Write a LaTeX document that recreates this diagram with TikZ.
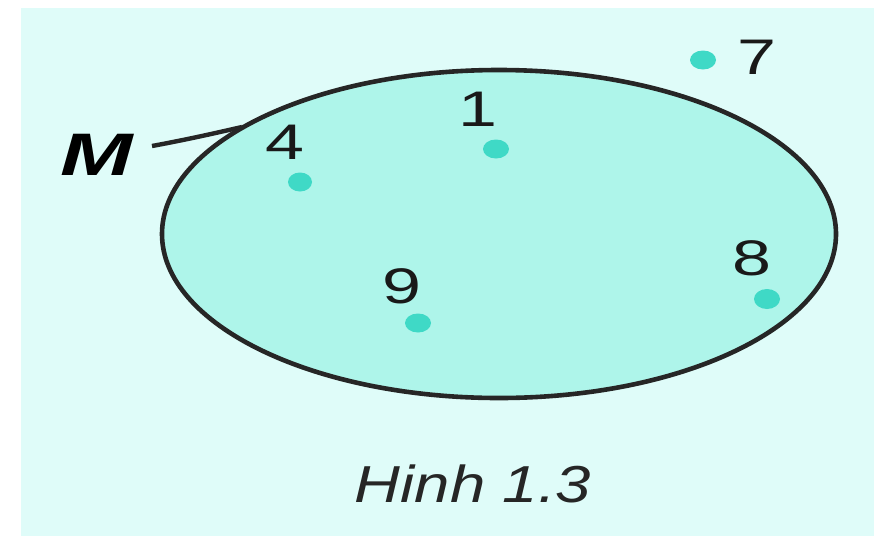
\documentclass[tikz,border=0pt]{standalone}
\usepackage{fontspec}
\setmainfont{Liberation Sans}
\begin{document}
\begin{tikzpicture}[x=1pt,y=-1pt,
  digit/.style={inner sep=0pt,font=\fontsize{50}{50}\selectfont,xscale=1.4,text=black!90},
]
\definecolor{bgcol}{HTML}{DFFCF9}
\definecolor{setfill}{HTML}{AEF5EA}
\definecolor{dotcol}{HTML}{3FD9C6}
\useasboundingbox (0,0) rectangle (874,536);
\fill[white] (0,0) rectangle (874,536);
\fill[bgcol] (21,8) rectangle (874,536);
% set M
\draw[line width=4.6pt,draw=black!85,fill=setfill] (499,234) ellipse [x radius=337, y radius=164];
% dots
\fill[dotcol] (703,60) ellipse [x radius=13, y radius=9.5];
\fill[dotcol] (496,149) ellipse [x radius=13, y radius=9.5];
\fill[dotcol] (300,182) ellipse [x radius=12, y radius=9.5];
\fill[dotcol] (418,323) ellipse [x radius=13, y radius=9.5];
\fill[dotcol] (767,299) ellipse [x radius=13, y radius=10];
% labels
\node[digit] (n7) at (757,57) {7};
\node[digit] (n1) at (478,109) {1};
\node[digit] (n4) at (285,142) {4};
\node[digit] (n9) at (402,286) {9};
\node[digit] (n8) at (752,258) {8};
\node[inner sep=0pt,font=\fontsize{60}{60}\selectfont\bfseries\itshape,xscale=1.45] (M) at (97,155) {M};
\node[inner sep=0pt,font=\fontsize{52}{52}\selectfont\itshape,xscale=1.22,text=black!85] (cap) at (473,484) {Hinh 1.3};
% pointer
\coordinate (Mstart) at (152,146);
\coordinate (Mend) at (242,127);
\draw[line width=4.4pt,draw=black!85] (Mstart) .. controls (190,139) and (220,132) .. (Mend);
\end{tikzpicture}
\end{document}
